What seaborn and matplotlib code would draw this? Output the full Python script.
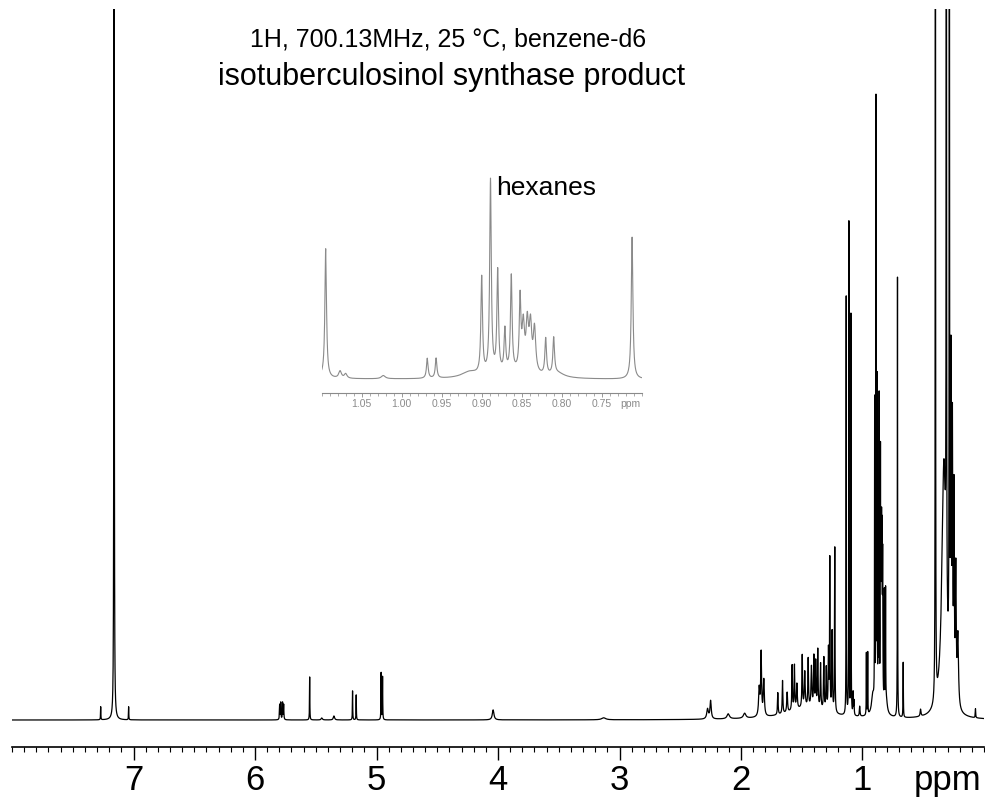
import numpy as np
import pandas as pd
import matplotlib
matplotlib.use("Agg")
import matplotlib.pyplot as plt
from matplotlib.ticker import MultipleLocator
import seaborn as sns

# Peak list (ppm, height, half width in ppm)
peak_ppm = [
    7.27, 7.16, 7.04,
    5.797, 5.788, 5.773, 5.764, 5.55, 5.45, 5.35, 5.197, 5.167, 4.962, 4.950,
    4.04, 3.13,
    2.275, 2.25, 2.105, 1.97, 1.85, 1.834, 1.812, 1.697, 1.658, 1.62, 1.579,
    1.56, 1.54, 1.496, 1.475, 1.447, 1.42, 1.40, 1.385, 1.368, 1.345, 1.318,
    1.298, 1.28, 1.269, 1.25, 1.228, 1.45,
    1.134, 1.112, 1.095, 1.077, 1.070, 1.023, 0.968, 0.957,
    0.915, 0.86, 0.805,
    0.900, 0.889, 0.880, 0.871, 0.863, 0.852, 0.848, 0.843, 0.839, 0.834,
    0.820, 0.810, 0.712, 0.665, 0.522,
    0.40, 0.33, 0.31, 0.285, 0.272, 0.26, 0.247, 0.232, 0.215, 0.07,
]
peak_height = [
    13, 1500, 13,
    15, 17, 17, 15, 43, 2, 4, 29, 25, 47, 43,
    10, 2,
    10, 18, 5, 5, 28, 62, 36, 22, 33, 20, 45,
    44, 25, 52, 35, 48, 40, 50, 45, 58, 45, 52,
    42, 60, 150, 80, 165, 12,
    418, 492, 400, 22, 14, 10, 62, 62,
    18, 18, 14,
    300, 600, 315, 130, 295, 220, 140, 145, 140, 135,
    112, 112, 440, 55, 7,
    1200, 250, 1200, 1200, 320, 260, 200, 130, 70, 9,
]
peak_width = [
    0.0015, 0.0015, 0.0015,
    0.002, 0.002, 0.002, 0.002, 0.0015, 0.006, 0.006, 0.0015, 0.0015, 0.0015, 0.0015,
    0.008, 0.02,
    0.008, 0.006, 0.012, 0.012, 0.006, 0.004, 0.005, 0.003, 0.003, 0.004, 0.003,
    0.003, 0.004, 0.003, 0.004, 0.003, 0.004, 0.003, 0.003, 0.003, 0.003, 0.003,
    0.003, 0.003, 0.002, 0.003, 0.002, 0.2,
    0.0012, 0.0012, 0.0012, 0.002, 0.002, 0.003, 0.0012, 0.0012,
    0.012, 0.03, 0.01,
    0.0012, 0.0012, 0.0012, 0.0012, 0.0012, 0.0012, 0.0018, 0.0018, 0.0018, 0.0018,
    0.0012, 0.0012, 0.0012, 0.0015, 0.004,
    0.0015, 0.02, 0.0015, 0.0015, 0.003, 0.003, 0.003, 0.004, 0.006, 0.002,
]

main_ticks = [7, 6, 5, 4, 3, 2, 1]
main_labels = ["7", "6", "5", "4", "3", "2", "1"]
inset_ticks = [1.05, 1.00, 0.95, 0.90, 0.85, 0.80, 0.75]
inset_labels = ["1.05", "1.00", "0.95", "0.90", "0.85", "0.80", "0.75"]

title_1 = "1H, 700.13MHz, 25 °C, benzene-d6"
title_2 = "isotuberculosinol synthase product"

# build the line from the peak list
ppm = np.arange(0.0, 8.0 + 1e-9, 0.0002)
p0 = np.array(peak_ppm)[:, None]
h = np.array(peak_height)[:, None]
w = np.array(peak_width)[:, None]
intensity = (h / (1 + ((ppm[None, :] - p0) / w) ** 2)).sum(axis=0)
df = pd.DataFrame({"ppm": ppm, "intensity": intensity})

sns.set_style("white")
plt.rcParams["font.family"] = ["Liberation Sans", "DejaVu Sans"]
plt.rcParams["text.color"] = "black"
plt.rcParams["xtick.color"] = "black"

W, H = 985, 807
fig = plt.figure(figsize=(9.85, 8.07), dpi=100)

# main spectrum
ax = fig.add_axes([12 / W, 60 / H, 972 / W, 738 / H])
sns.lineplot(data=df, x="ppm", y="intensity", ax=ax, color="black",
             linewidth=0.9, estimator=None, sort=False, errorbar=None)
ax.set_xlim(8.0, 0.0)
ax.set_ylim(-27, 711)
for s in ["top", "left", "right"]:
    ax.spines[s].set_visible(False)
ax.spines["bottom"].set_linewidth(1.2)
ax.spines["bottom"].set_color("black")
ax.set_yticks([])
ax.set_xticks(main_ticks)
ax.set_xticklabels(main_labels)
ax.xaxis.set_minor_locator(MultipleLocator(0.1))
ax.tick_params(axis="x", which="major", length=9.5, width=1.0, pad=3,
               labelsize=25, direction="out", bottom=True)
ax.tick_params(axis="x", which="minor", length=3.6, width=0.8,
               direction="out", bottom=True)
ax.set_xlabel("")
ax.set_ylabel("")
ax.annotate("ppm", xy=(0.3, 0), xycoords=("data", "axes fraction"),
            xytext=(0, -12.5), textcoords="offset points",
            ha="center", va="top", fontsize=25)

# inset zoom 1.10 - 0.70 ppm
gray = "#8a8a8a"
sub = df[(df["ppm"] >= 0.70) & (df["ppm"] <= 1.10)]
ax_in = fig.add_axes([321.7 / W, (H - 392.7) / H, 320 / W, 222.7 / H])
ax_in.patch.set_alpha(0)
sns.lineplot(data=sub, x="ppm", y="intensity", ax=ax_in, color=gray,
             linewidth=0.8, estimator=None, sort=False, errorbar=None)
ax_in.set_xlim(1.10, 0.70)
ax_in.set_ylim(-39.4, 651)
for s in ["top", "left", "right"]:
    ax_in.spines[s].set_visible(False)
ax_in.spines["bottom"].set_color(gray)
ax_in.spines["bottom"].set_linewidth(0.8)
ax_in.set_yticks([])
ax_in.set_xticks(inset_ticks)
ax_in.set_xticklabels(inset_labels)
ax_in.xaxis.set_minor_locator(MultipleLocator(0.01))
ax_in.tick_params(axis="x", which="major", length=3, width=0.6, pad=1.5,
                  labelsize=7.5, colors=gray, bottom=True)
ax_in.tick_params(axis="x", which="minor", length=1.8, width=0.5,
                  color=gray, bottom=True)
ax_in.set_xlabel("")
ax_in.set_ylabel("")
ax_in.annotate("ppm", xy=(0.714, 0), xycoords=("data", "axes fraction"),
               xytext=(0, -4.5), textcoords="offset points",
               ha="center", va="top", fontsize=7.5, color=gray)
ax_in.text(0.882, 573, "hexanes", fontsize=19, va="baseline", ha="left",
           color="black")

# header text
fig.text(448 / W, 1 - 47 / H, title_1, ha="center", va="baseline", fontsize=18)
fig.text(452 / W, 1 - 85 / H, title_2, ha="center", va="baseline", fontsize=22)

plt.savefig("out.png", dpi=100)
